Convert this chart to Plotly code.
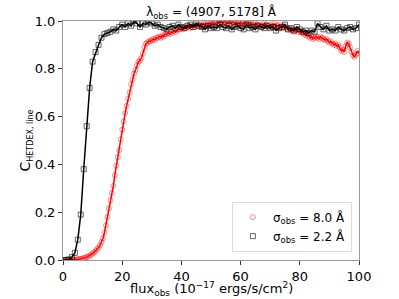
import numpy as np
import plotly.graph_objects as go

# black series (sigma_obs = 2.2 A), flux step 1
flux_black = list(range(0, 101))
c_black = [
    0.0, 0.0, 0.003, 0.012, 0.03, 0.085, 0.19, 0.38, 0.56, 0.72,
    0.83, 0.87, 0.90, 0.93, 0.945, 0.95, 0.955, 0.965, 0.96, 0.975,
    0.985, 0.975, 0.99, 0.98, 1.0, 0.99, 0.975, 0.99, 0.985, 0.995,
    0.99, 0.98, 0.985, 0.975, 0.97, 0.965, 0.975, 0.98, 0.97, 0.985,
    0.975, 0.97, 0.98, 0.985, 0.975, 0.99, 0.98, 0.975, 0.965, 0.98,
    0.97, 0.975, 0.97, 0.985, 0.975, 0.97, 0.98, 0.965, 0.975, 0.98,
    0.97, 0.965, 0.985, 0.97, 0.975, 0.965, 0.98, 0.975, 0.97, 0.98,
    0.97, 0.975, 0.96, 0.97, 0.975, 0.985, 0.965, 0.97, 0.96, 0.975,
    0.965, 0.955, 0.96, 0.95, 0.96, 0.955, 0.99, 0.975, 0.965, 0.98,
    0.96, 0.965, 0.96, 0.975, 0.965, 0.96, 0.97, 0.975, 0.965, 0.97,
    0.985,
]

# red series (sigma_obs = 8.0 A), flux step 0.5
c_red = [
    0, 0, 0, 0, 0, 0, 0.001, 0.001, 0.002, 0.002,
    0.003, 0.004, 0.005, 0.006, 0.008, 0.01, 0.012, 0.015, 0.018, 0.022,
    0.027, 0.032, 0.038, 0.045, 0.052, 0.062, 0.075, 0.09, 0.115, 0.145,
    0.18, 0.215, 0.25, 0.28, 0.31, 0.355, 0.395, 0.43, 0.46, 0.505,
    0.545, 0.58, 0.615, 0.645, 0.675, 0.7, 0.735, 0.755, 0.78, 0.795,
    0.815, 0.83, 0.835, 0.845, 0.865, 0.89, 0.905, 0.91, 0.915, 0.915,
    0.92, 0.925, 0.92, 0.93, 0.93, 0.935, 0.93, 0.94, 0.935, 0.945,
    0.945, 0.95, 0.945, 0.955, 0.95, 0.96, 0.955, 0.96, 0.965, 0.965,
    0.97, 0.965, 0.975, 0.97, 0.975, 0.98, 0.97, 0.975, 0.98, 0.975,
    0.985, 0.98, 0.975, 0.985, 0.98, 0.99, 0.985, 0.98, 0.99, 0.985,
    0.99, 0.995, 0.985, 0.99, 0.995, 0.99, 1.0, 0.995, 0.99, 1.0,
    0.995, 0.99, 0.995, 1.0, 0.99, 0.995, 0.99, 0.995, 0.985, 0.99,
    0.995, 0.985, 0.99, 0.995, 0.985, 0.99, 0.985, 0.995, 0.985, 0.98,
    0.99, 0.985, 0.98, 0.985, 0.975, 0.98, 0.99, 0.985, 0.98, 0.975,
    0.985, 0.975, 0.98, 0.99, 0.975, 0.98, 0.985, 0.975, 0.97, 0.98,
    0.97, 0.975, 0.965, 0.97, 0.96, 0.965, 0.955, 0.96, 0.965, 0.955,
    0.96, 0.95, 0.955, 0.945, 0.94, 0.945, 0.935, 0.93, 0.935, 0.925,
    0.93, 0.935, 0.93, 0.925, 0.935, 0.93, 0.925, 0.92, 0.925, 0.915,
    0.91, 0.915, 0.905, 0.9, 0.905, 0.895, 0.9, 0.89, 0.875, 0.88,
    0.87, 0.895, 0.91, 0.905, 0.89, 0.87, 0.855, 0.85, 0.86, 0.875,
    0.865,
]
flux_red = [i * 0.5 for i in range(len(c_red))]

labels = ["σ<sub>obs</sub> = 8.0 Å", "σ<sub>obs</sub> = 2.2 Å"]
title = "λ<sub>obs</sub> = (4907, 5178] Å"
xtitle = ("flux<sub><span style='font-size:9px'>obs</span></sub> (10<sup><span style='font-size:9px'>−17</span></sup>"
          " ergs/s/cm<sup><span style='font-size:9px'>2</span></sup>)")
ytitle = "C<sub><span style='font-size:8px'>HETDEX, line</span></sub>"
xticks = [0, 20, 40, 60, 80, 100]
yticks = [0.0, 0.2, 0.4, 0.6, 0.8, 1.0]

fig = go.Figure()
fig.add_trace(go.Scatter(x=flux_red, y=c_red, mode="markers", name=labels[0],
                         marker=dict(symbol="circle-open", size=5, color="rgba(255,0,0,0.45)",
                                     line=dict(width=1))))
fig.add_trace(go.Scatter(x=flux_red, y=c_red, mode="lines", showlegend=False,
                         line=dict(color="#ff0000", width=1.5)))
fig.add_trace(go.Scatter(x=flux_black, y=c_black, mode="markers", name=labels[1],
                         marker=dict(symbol="square-open", size=5, color="rgba(0,0,0,0.6)",
                                     line=dict(width=1))))
fig.add_trace(go.Scatter(x=flux_black, y=c_black, mode="lines", showlegend=False,
                         line=dict(color="#000000", width=1.5)))

axis_common = dict(showline=True, linecolor="#999999", linewidth=1, mirror=True,
                   ticks="outside", ticklen=4, tickcolor="#333333", showgrid=False,
                   zeroline=False, tickfont=dict(size=13, color="#000000"),
                   automargin=False)

fig.update_layout(
    width=399, height=299,
    margin=dict(l=63, r=40, t=21, b=39),
    paper_bgcolor="white", plot_bgcolor="white",
    font=dict(family="DejaVu Sans", color="#000000"),
    hovermode=False,
    title=dict(text=title, x=0.5, xanchor="center", xref="paper",
               y=0.96, yref="container", yanchor="middle",
               font=dict(size=12)),
    xaxis=dict(range=[0, 100], tickvals=xticks, **axis_common),
    yaxis=dict(range=[0, 1], tickvals=yticks, tickformat=".1f",
               title=dict(text=ytitle, font=dict(size=14), standoff=0), **axis_common),
    annotations=[dict(text=xtitle, xref="paper", yref="paper", x=0.5, y=0,
                      xanchor="center", yanchor="middle", yshift=-29,
                      showarrow=False, font=dict(size=13))],
    legend=dict(x=0.976, xanchor="right", y=0.035, yanchor="bottom",
                bgcolor="rgba(255,255,255,0.8)", bordercolor="#dddddd", borderwidth=1,
                font=dict(size=12), itemwidth=30, tracegroupgap=0),
)

fig.write_html("out.html", config={"displayModeBar": False},
               post_script="document.body.style.margin='0';")
